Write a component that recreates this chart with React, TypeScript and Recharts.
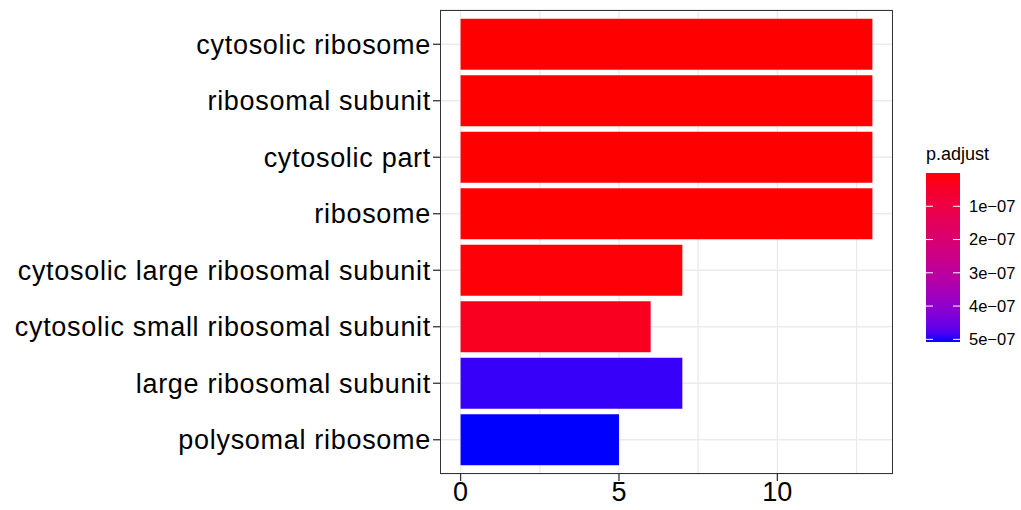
import {
    BarChart,
    Bar,
    XAxis,
    YAxis,
    CartesianGrid,
    Cell,
} from "recharts";

const terms = [
    "cytosolic ribosome",
    "ribosomal subunit",
    "cytosolic part",
    "ribosome",
    "cytosolic large ribosomal subunit",
    "cytosolic small ribosomal subunit",
    "large ribosomal subunit",
    "polysomal ribosome",
];
const counts = [13, 13, 13, 13, 7, 6, 7, 5];
const padj = [1.2e-15, 3.5e-15, 8.0e-15, 1.1e-14, 6e-9, 3.6e-8, 4.95e-7, 5.08e-7];

const xTicks = [0, 5, 10];
const xGrid = [0, 2.5, 5, 7.5, 10, 12.5];
const legendTicks = [1e-7, 2e-7, 3e-7, 4e-7, 5e-7];
const legendLabels = ["1e\u221207", "2e\u221207", "3e\u221207", "4e\u221207", "5e\u221207"];

const LOW = [255, 0, 0];
const HIGH = [0, 0, 255];

const W = 1021;
const H = 510;
const M = { top: 10, right: 128, bottom: 0, left: 0 };
const Y_W = 440;
const X_H = 36;
const FONT = "'Liberation Sans', Arial, Helvetica, sans-serif";

// sRGB <-> Lab so the gradient matches ggplot's lab interpolation
const toLin = (c: number) => {
    c /= 255;
    return c <= 0.04045 ? c / 12.92 : Math.pow((c + 0.055) / 1.055, 2.4);
};
const fromLin = (c: number) => {
    const v = c <= 0.0031308 ? 12.92 * c : 1.055 * Math.pow(c, 1 / 2.4) - 0.055;
    return Math.round(Math.min(1, Math.max(0, v)) * 255);
};
const WX = 0.95047, WY = 1, WZ = 1.08883;
const f = (t: number) => (t > 216 / 24389 ? Math.cbrt(t) : (24389 / 27 * t + 16) / 116);
const fi = (t: number) => (t * t * t > 216 / 24389 ? t * t * t : (116 * t - 16) / (24389 / 27));

const rgbToLab = ([r, g, b]: number[]) => {
    const R = toLin(r), G = toLin(g), B = toLin(b);
    const x = (0.4124 * R + 0.3576 * G + 0.1805 * B) / WX;
    const y = (0.2126 * R + 0.7152 * G + 0.0722 * B) / WY;
    const z = (0.0193 * R + 0.1192 * G + 0.9505 * B) / WZ;
    const fx = f(x), fy = f(y), fz = f(z);
    return [116 * fy - 16, 500 * (fx - fy), 200 * (fy - fz)];
};
const labToRgb = ([L, a, bb]: number[]) => {
    const fy = (L + 16) / 116;
    const fx = fy + a / 500;
    const fz = fy - bb / 200;
    const x = fi(fx) * WX, y = fi(fy) * WY, z = fi(fz) * WZ;
    const R = 3.2406 * x - 1.5372 * y - 0.4986 * z;
    const G = -0.9689 * x + 1.8758 * y + 0.0415 * z;
    const B = 0.0557 * x - 0.204 * y + 1.057 * z;
    const h = (v: number) => fromLin(v).toString(16).padStart(2, "0");
    return "#" + h(R) + h(G) + h(B);
};

const lowLab = rgbToLab(LOW);
const highLab = rgbToLab(HIGH);
const pMin = Math.min(...padj);
const pMax = Math.max(...padj);
const colorAt = (t: number) =>
    labToRgb(lowLab.map((v, i) => v + (highLab[i] - v) * t));
const colorOf = (p: number) => colorAt((p - pMin) / (pMax - pMin));

const data = terms.map((term, i) => ({ term, count: counts[i], padj: padj[i] }));

const ColorBar = () => {
    const bx = 926, by = 173, bw = 34, bh = 169;
    const stops = Array.from({ length: 21 }, (_, i) => i / 20);
    return (
        <svg
            width={W}
            height={H}
            style={{ position: "absolute", left: 0, top: 0, pointerEvents: "none" }}
        >
            <defs>
                <linearGradient id="padjGrad" x1="0" y1="0" x2="0" y2="1">
                    {stops.map((s) => (
                        <stop key={s} offset={s} stopColor={colorAt(s)} />
                    ))}
                </linearGradient>
            </defs>
            <text x={bx} y={160} fontSize={18} fontFamily={FONT} fill="#000">
                p.adjust
            </text>
            <rect x={bx} y={by} width={bw} height={bh} fill="url(#padjGrad)" />
            {legendTicks.map((v, i) => {
                const y = by + ((v - pMin) / (pMax - pMin)) * bh;
                return (
                    <g key={v}>
                        <line x1={bx} x2={bx + 7} y1={y} y2={y} stroke="#fff" strokeWidth={1} />
                        <line x1={bx + bw - 7} x2={bx + bw} y1={y} y2={y} stroke="#fff" strokeWidth={1} />
                        <text
                            x={969}
                            y={y}
                            dy="0.35em"
                            fontSize={16.5}
                            fontFamily={FONT}
                            fill="#000"
                        >
                            {legendLabels[i]}
                        </text>
                    </g>
                );
            })}
        </svg>
    );
};

export default function App() {
    const plotW = W - M.left - M.right - Y_W;
    const plotH = H - M.top - M.bottom - X_H;
    return (
        <div style={{ position: "absolute", left: 0, top: 0, width: W, height: H, background: "#fff" }}>
            <BarChart
                width={W}
                height={H}
                data={data}
                layout="vertical"
                margin={M}
                barCategoryGap="5%"
            >
                <CartesianGrid
                    stroke="#EBEBEB"
                    strokeWidth={1.3}
                    verticalValues={xGrid}
                />
                <XAxis
                    type="number"
                    dataKey="count"
                    domain={[-0.65, 13.65]}
                    allowDataOverflow
                    ticks={xTicks}
                    height={X_H}
                    axisLine={false}
                    tickLine={{ stroke: "#333", strokeWidth: 1.3 }}
                    tickSize={7}
                    tickMargin={1}
                    tick={{ fontSize: 27, fill: "#000", fontFamily: FONT }}
                />
                <YAxis
                    type="category"
                    dataKey="term"
                    width={Y_W}
                    interval={0}
                    padding={{ top: 6, bottom: 6 }}
                    axisLine={false}
                    tickLine={{ stroke: "#333", strokeWidth: 1.3 }}
                    tickSize={7}
                    tickMargin={2}
                    tick={{ fontSize: 27, fill: "#000", fontFamily: FONT, letterSpacing: 0.7 }}
                />
                <Bar dataKey="count" isAnimationActive={false}>
                    {data.map((d) => (
                        <Cell key={d.term} fill={colorOf(d.padj)} />
                    ))}
                </Bar>
            </BarChart>
            <div
                style={{
                    position: "absolute",
                    left: M.left + Y_W,
                    top: M.top,
                    width: plotW,
                    height: plotH,
                    border: "1.5px solid #333",
                    boxSizing: "border-box",
                    pointerEvents: "none",
                }}
            />
            <ColorBar />
        </div>
    );
}
